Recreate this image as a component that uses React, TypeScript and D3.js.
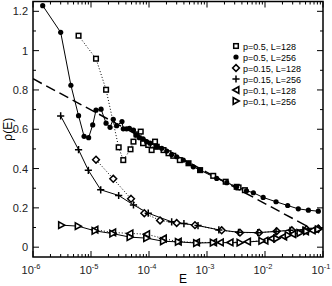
import React from "react";
import * as d3 from "d3";

// p=0.5, L=128 (open squares, dotted)
const sqE = [6.1e-6, 1.22e-5, 1.82e-5, 3.0e-5, 3.6e-5, 4.8e-5, 5.4e-5, 6.1e-5, 7.2e-5, 7.9e-5, 9.7e-5, 1.11e-4, 1.27e-4, 1.36e-4, 1.78e-4, 2.17e-4, 2.62e-4, 3.4e-4, 4.8e-4, 7.6e-4, 1.28e-3, 2.1e-3, 3.25e-3, 3.5e-3, 4.5e-3];
const sqV = [1.076, 0.959, 0.801, 0.508, 0.443, 0.498, 0.537, 0.574, 0.588, 0.529, 0.52, 0.494, 0.537, 0.511, 0.494, 0.478, 0.465, 0.443, 0.427, 0.392, 0.363, 0.333, 0.307, 0.304, 0.29];
// p=0.5, L=256 (filled circles, solid)
const ciE = [1.47e-6, 3.0e-6, 4.5e-6, 6.1e-6, 7.6e-6, 9.1e-6, 1.07e-5, 1.22e-5, 1.49e-5, 1.82e-5, 2.13e-5, 2.42e-5, 2.77e-5, 3.42e-5, 3.6e-5, 4.1e-5, 4.6e-5, 5.4e-5, 6.0e-5, 6.8e-5, 7.9e-5, 9.1e-5, 1.04e-4, 1.36e-4, 1.66e-4, 2.02e-4, 2.46e-4, 3.0e-4, 3.9e-4, 4.8e-4, 5.8e-4, 7.6e-4, 1.47e-3, 2.19e-3, 3.25e-3, 4.8e-3, 6.3e-3, 9.3e-3, 1.55e-2, 2.46e-2, 3.75e-2, 5.6e-2, 8.3e-2];
const ciV = [1.229, 1.093, 0.824, 0.669, 0.564, 0.557, 0.622, 0.697, 0.702, 0.631, 0.61, 0.651, 0.618, 0.639, 0.602, 0.602, 0.605, 0.596, 0.571, 0.557, 0.551, 0.537, 0.529, 0.511, 0.503, 0.489, 0.472, 0.46, 0.443, 0.427, 0.409, 0.392, 0.35, 0.328, 0.307, 0.287, 0.277, 0.253, 0.231, 0.212, 0.195, 0.188, 0.183];
// p=0.15, L=128 (open diamonds, dotted)
const diE = [1.22e-5, 2.42e-5, 4.9e-5, 8.3e-5, 1.55e-4, 3.0e-4, 6.2e-4, 1.79e-3, 3.7e-3, 7.9e-3, 1.59e-2, 2.9e-2, 5.2e-2, 8.3e-2];
const diV = [0.445, 0.348, 0.246, 0.173, 0.136, 0.123, 0.112, 0.086, 0.074, 0.074, 0.081, 0.086, 0.091, 0.095];
// p=0.15, L=256 (plus, solid)
const plE = [3.0e-6, 6.1e-6, 9.0e-6, 1.47e-5, 3.0e-5, 5.4e-5, 9.7e-5, 2.46e-4, 4.0e-4, 7.0e-4, 1.6e-3, 3.5e-3, 7.5e-3, 1.55e-2, 2.7e-2, 4.5e-2, 8.5e-2];
const plV = [0.668, 0.496, 0.391, 0.292, 0.263, 0.215, 0.173, 0.129, 0.12, 0.11, 0.088, 0.076, 0.074, 0.08, 0.086, 0.088, 0.095];
// p=0.1, L=128 (left triangles, dotted)
const ltE = [1.17e-5, 2.37e-5, 4.7e-5, 9.1e-5, 1.77e-4, 3.2e-4, 6.6e-4, 1.3e-3, 1.7e-3, 2.5e-3, 5.0e-3, 1.0e-2, 1.3e-2, 2.1e-2, 3.0e-2, 5.0e-2, 6.5e-2];
const ltV = [0.089, 0.075, 0.07, 0.066, 0.044, 0.028, 0.024, 0.024, 0.024, 0.024, 0.028, 0.033, 0.044, 0.054, 0.066, 0.08, 0.085];
// p=0.1, L=256 (right triangles, solid)
const rtE = [3.1e-6, 6.0e-6, 1.17e-5, 2.37e-5, 4.7e-5, 9.1e-5, 1.77e-4, 3.2e-4, 6.6e-4, 1.28e-3, 3.7e-3, 8.8e-3, 1.59e-2, 2.5e-2, 4.0e-2, 5.2e-2, 8.3e-2];
const rtV = [0.112, 0.107, 0.083, 0.069, 0.051, 0.046, 0.03, 0.027, 0.021, 0.023, 0.023, 0.032, 0.044, 0.061, 0.072, 0.081, 0.091];
// dashed reference line
const dashE = [1e-6, 1e-1];
const dashV = [0.857, 0.063];

const legendLabels = ["p=0.5, L=128", "p=0.5, L=256", "p=0.15, L=128", "p=0.15, L=256", "p=0.1, L=128", "p=0.1, L=256"];
const xTickExp = [-6, -5, -4, -3, -2, -1];
const yTicks = [0, 0.2, 0.4, 0.6, 0.8, 1, 1.2];

const W = 332, H = 286;
const L0 = 33, R0 = 323, T0 = 1.5, B0 = 257;
const font = "Liberation Sans, Arial, Helvetica, sans-serif";

function Marker({ type, x, y }: { type: string; x: number; y: number }) {
  const sw = 1.5;
  if (type === "sq") return <rect x={x - 2.3} y={y - 2.3} width={4.6} height={4.6} fill="white" stroke="black" strokeWidth={sw} />;
  if (type === "ci") return <circle cx={x} cy={y} r={2.6} fill="black" />;
  if (type === "di") return <path d={`M${x},${y - 3.4}L${x + 3.4},${y}L${x},${y + 3.4}L${x - 3.4},${y}Z`} fill="white" stroke="black" strokeWidth={sw} />;
  if (type === "pl") return <path d={`M${x - 3.6},${y}H${x + 3.6}M${x},${y - 3.6}V${y + 3.6}`} stroke="black" strokeWidth={1.5} />;
  if (type === "lt") return <path d={`M${x - 3.2},${y}L${x + 2.8},${y - 3.3}L${x + 2.8},${y + 3.3}Z`} fill="white" stroke="black" strokeWidth={1.6} />;
  return <path d={`M${x + 3.2},${y}L${x - 2.8},${y - 3.3}L${x - 2.8},${y + 3.3}Z`} fill="white" stroke="black" strokeWidth={1.6} />;
}

export default function App() {
  const x = d3.scaleLog().domain([1e-6, 1e-1]).range([L0, R0]);
  const y = d3.scaleLinear().domain([-0.05, 1.25]).range([B0, T0]);
  const line = d3.line<[number, number]>().x(d => x(d[0])).y(d => y(d[1]));
  const zip = (a: number[], b: number[]) => a.map((e, i) => [e, b[i]] as [number, number]);

  const series = [
    { t: "sq", E: sqE, V: sqV, dash: "1,2" },
    { t: "ci", E: ciE, V: ciV, dash: "" },
    { t: "di", E: diE, V: diV, dash: "1,2" },
    { t: "pl", E: plE, V: plV, dash: "" },
    { t: "lt", E: ltE, V: ltV, dash: "1,2" },
    { t: "rt", E: rtE, V: rtV, dash: "" },
  ];

  const minor: number[] = [];
  for (let e = -6; e < -1; e++) for (let k = 2; k <= 9; k++) minor.push(k * Math.pow(10, e));
  const yMinor = [0.1, 0.3, 0.5, 0.7, 0.9, 1.1];

  return (
    <svg width={W} height={H} style={{ position: "absolute", left: 0, top: 0 }} fontFamily={font}>
      <rect width={W} height={H} fill="white" />
      <defs>
        <clipPath id="pc"><rect x={L0} y={T0} width={R0 - L0} height={B0 - T0} /></clipPath>
      </defs>
      <g clipPath="url(#pc)">
        <path d={line(zip(dashE, dashV)) || ""} fill="none" stroke="black" strokeWidth={1.5} strokeDasharray="10,5" />
        {series.map((s, i) => (
          <path key={i} d={line(zip(s.E, s.V)) || ""} fill="none" stroke="black" strokeWidth={1} strokeDasharray={s.dash || undefined} />
        ))}
        {series.map((s, i) => (
          <g key={"m" + i}>
            {s.E.map((e, j) => <Marker key={j} type={s.t} x={x(e)} y={y(s.V[j])} />)}
          </g>
        ))}
      </g>
      <g stroke="black" strokeWidth={1}>
        {xTickExp.map(p => {
          const px = x(Math.pow(10, p));
          return <g key={p}><line x1={px} x2={px} y1={B0} y2={B0 - 6} /><line x1={px} x2={px} y1={T0} y2={T0 + 6} /></g>;
        })}
        {minor.map((m, i) => {
          const px = x(m);
          return <g key={i}><line x1={px} x2={px} y1={B0} y2={B0 - 3} /><line x1={px} x2={px} y1={T0} y2={T0 + 3} /></g>;
        })}
        {yTicks.map(v => (
          <g key={v}><line x1={L0} x2={L0 + 6} y1={y(v)} y2={y(v)} /><line x1={R0} x2={R0 - 6} y1={y(v)} y2={y(v)} /></g>
        ))}
        {yMinor.map(v => (
          <g key={v}><line x1={L0} x2={L0 + 3} y1={y(v)} y2={y(v)} /><line x1={R0} x2={R0 - 3} y1={y(v)} y2={y(v)} /></g>
        ))}
      </g>
      <rect x={L0} y={T0} width={R0 - L0} height={B0 - T0} fill="none" stroke="black" strokeWidth={1.5} />
      {yTicks.map(v => (
        <text key={v} x={L0 - 5} y={y(v) + 4} textAnchor="end" fontSize={11} fill="#222">{String(v)}</text>
      ))}
      {xTickExp.map(p => (
        <text key={p} x={x(Math.pow(10, p)) - 2} y={274} textAnchor="middle" fontSize={11} fill="#222">
          10<tspan dy={-5} fontSize={7.5}>{String(p)}</tspan>
        </text>
      ))}
      <text x={183} y={283} textAnchor="middle" fontSize={12}>E</text>
      <text transform={`translate(12,${(T0 + B0) / 2}) rotate(-90)`} textAnchor="middle" fontSize={12}>ρ(E)</text>
      {legendLabels.map((l, i) => (
        <g key={l}>
          <Marker type={series[i].t} x={236} y={46 + i * 11} />
          <text x={243} y={46 + i * 11 + 3.5} fontSize={9}>{l}</text>
        </g>
      ))}
    </svg>
  );
}
